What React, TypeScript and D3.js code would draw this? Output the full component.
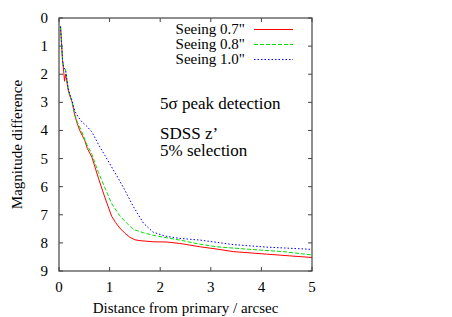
import React from "react";
import * as d3 from "d3";

const seriesNames = ['Seeing 0.7"', 'Seeing 0.8"', 'Seeing 1.0"'];

const redDist = [0.03,0.05,0.07,0.09,0.11,0.13,0.15,0.18,0.21,0.26,0.31,0.36,0.41,0.51,0.56,0.65,0.78,0.91,1.04,1.12,1.2,1.3,1.4,1.5,1.6,1.86,2.13,2.39,2.79,3.12,3.44,4.1,4.55,5.0];
const redMag = [0.3,0.9,1.5,1.85,2.25,2.0,2.2,2.55,2.75,3.0,3.45,3.75,4.0,4.36,4.64,4.95,5.7,6.4,7.05,7.28,7.47,7.65,7.8,7.89,7.92,7.96,7.97,8.02,8.14,8.22,8.31,8.4,8.46,8.52];

const greenDist = [0.03,0.05,0.07,0.09,0.11,0.13,0.15,0.18,0.21,0.26,0.31,0.36,0.44,0.55,0.65,0.78,0.91,1.04,1.2,1.34,1.47,1.67,1.86,2.13,2.39,2.79,3.12,3.77,4.43,5.0];
const greenMag = [0.3,0.9,1.5,1.75,1.8,1.85,2.1,2.5,2.7,3.0,3.4,3.7,4.0,4.5,4.85,5.5,6.05,6.6,7.03,7.3,7.52,7.64,7.73,7.82,7.9,8.05,8.14,8.23,8.31,8.43];

const blueDist = [0.03,0.05,0.07,0.09,0.11,0.13,0.15,0.18,0.21,0.26,0.31,0.375,0.45,0.55,0.65,0.78,0.91,1.04,1.17,1.3,1.47,1.67,1.86,2.1,2.39,2.79,3.44,4.1,5.0];
const blueMag = [0.3,0.9,1.5,1.75,1.8,1.85,2.1,2.5,2.68,2.95,3.3,3.51,3.69,3.85,4.05,4.5,4.9,5.3,5.7,6.12,6.71,7.3,7.62,7.76,7.84,7.9,8.06,8.15,8.23];

const xTicks = [0, 1, 2, 3, 4, 5];
const yTicks = [0, 1, 2, 3, 4, 5, 6, 7, 8, 9];

const annotations = ["5σ peak detection", "SDSS z’", "5% selection"];

const W = 452, H = 317;
const left = 59, right = 312, top = 18, bottom = 271;
const font = "'Liberation Serif', 'Times New Roman', 'DejaVu Serif', serif";

export default function App() {
  const x = d3.scaleLinear().domain([0, 5]).range([left, right]);
  const y = d3.scaleLinear().domain([0, 9]).range([top, bottom]);
  const line = d3.line<[number, number]>().x(d => x(d[0])).y(d => y(d[1]));
  const series = [
    { name: seriesNames[0], pts: redDist.map((d, i) => [d, redMag[i]] as [number, number]), color: "#ff0000", dash: "none" },
    { name: seriesNames[1], pts: greenDist.map((d, i) => [d, greenMag[i]] as [number, number]), color: "#00e000", dash: "4,2" },
    { name: seriesNames[2], pts: blueDist.map((d, i) => [d, blueMag[i]] as [number, number]), color: "#0000ff", dash: "1.5,2" },
  ];
  const tl = 4;
  const ts = { fontFamily: font, fill: "#000" };
  return (
    <svg width={W} height={H} style={{ position: "absolute", left: 0, top: 0, background: "#fff", fontFamily: font }}>
      <defs>
        <clipPath id="clip"><rect x={left} y={top} width={right - left} height={bottom - top} /></clipPath>
      </defs>
      <g clipPath="url(#clip)">
        {series.map((s, i) => (
          <path key={i} d={line(s.pts) || ""} fill="none" stroke={s.color} strokeWidth={1} strokeDasharray={s.dash} />
        ))}
      </g>
      <rect x={left} y={top} width={right - left} height={bottom - top} fill="none" stroke="#444" strokeWidth={1.2} />
      {xTicks.map(t => (
        <g key={"x" + t}>
          <line x1={x(t)} x2={x(t)} y1={bottom} y2={bottom - tl} stroke="#444" />
          <line x1={x(t)} x2={x(t)} y1={top} y2={top + tl} stroke="#444" />
          <text x={x(t)} y={292} textAnchor="middle" fontSize={15} style={ts}>{t}</text>
        </g>
      ))}
      {yTicks.map(t => (
        <g key={"y" + t}>
          <line x1={left} x2={left + tl} y1={y(t)} y2={y(t)} stroke="#444" />
          <line x1={right} x2={right - tl} y1={y(t)} y2={y(t)} stroke="#444" />
          <text x={48} y={y(t) + 5} textAnchor="end" fontSize={15} style={ts}>{t}</text>
        </g>
      ))}
      <text x={(left + right) / 2} y={313} textAnchor="middle" fontSize={15} style={ts}>Distance from primary / arcsec</text>
      <text transform={`translate(22,${(top + bottom) / 2}) rotate(-90)`} textAnchor="middle" fontSize={15} style={ts}>Magnitude difference</text>
      {series.map((s, i) => (
        <g key={"l" + i}>
          <text x={245} y={34 + i * 15} textAnchor="end" fontSize={15} style={ts}>{s.name}</text>
          <line x1={254} x2={293} y1={29.5 + i * 15} y2={29.5 + i * 15} stroke={s.color} strokeWidth={1} strokeDasharray={s.dash} />
        </g>
      ))}
      <text x={160} y={108.5} fontSize={17} style={ts}>{annotations[0]}</text>
      <text x={160} y={138.5} fontSize={17} style={ts}>{annotations[1]}</text>
      <text x={160} y={156} fontSize={17} style={ts}>{annotations[2]}</text>
    </svg>
  );
}
